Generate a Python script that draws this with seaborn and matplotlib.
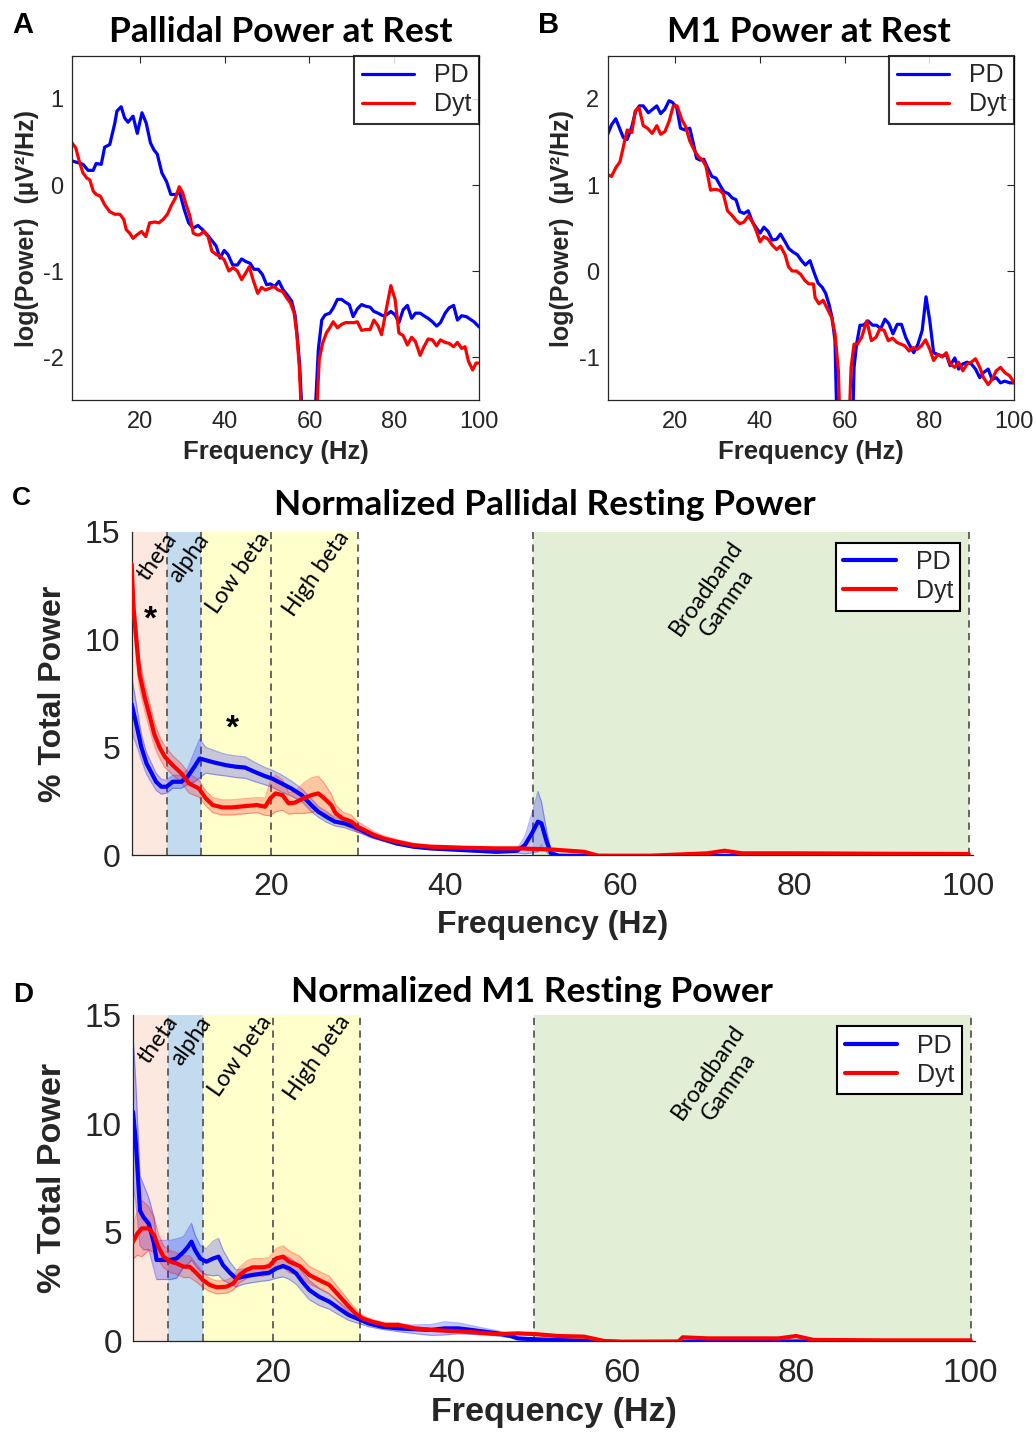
import matplotlib
matplotlib.use('Agg')
import matplotlib.pyplot as plt
import pandas as pd
import seaborn as sns

# ---- panel A: pallidal log power ----
a_pd_freq = [4, 5.4, 6.6, 7.8, 9, 9.7, 10.9, 11.7, 12.9, 14.1, 14.6, 15.6, 16.4, 17.2, 18.4, 19.4, 20.5, 21.5,
             22.5, 23.3, 24.1, 25.2, 26.3, 27.3, 28.4, 29.4, 30.5, 31.5, 32.6, 33.7, 34.8, 35.9, 36.9, 38, 38.9,
             39.9, 40.8, 41.9, 43, 44, 45, 46, 46.9, 47.9, 48.9, 49.9, 50.8, 51.8, 52.8, 53.8, 54.8, 55.8, 56.6,
             57.2, 57.7, 58.6, 61.0, 62.1, 62.9, 63.7, 64.8, 65.6, 66.6, 67.6, 68.4, 69.4, 70.3, 71.3, 72.3, 73.3,
             74.3, 75.2, 76.2, 77.3, 78.2, 79.2, 80.2, 81.1, 82.1, 83.1, 84.1, 85, 86.1, 87, 88, 89, 90, 90.9, 92,
             92.9, 94, 94.9, 95.9, 97, 97.9, 98.8, 100]
a_pd_pow = [0.28, 0.26, 0.24, 0.17, 0.17, 0.25, 0.24, 0.44, 0.47, 0.72, 0.86, 0.91, 0.78, 0.73, 0.8, 0.6, 0.84,
            0.72, 0.49, 0.41, 0.36, 0.14, 0.04, -0.11, -0.11, -0.09, -0.29, -0.44, -0.5, -0.47, -0.52, -0.58,
            -0.64, -0.71, -0.85, -0.76, -0.81, -0.93, -0.93, -0.86, -0.89, -0.91, -0.98, -0.98, -1.04, -1.16,
            -1.15, -1.18, -1.12, -1.22, -1.28, -1.35, -1.51, -1.8, -2.1, -3.0, -3.0, -1.91, -1.57, -1.51, -1.49,
            -1.43, -1.33, -1.33, -1.36, -1.39, -1.53, -1.44, -1.39, -1.41, -1.42, -1.47, -1.49, -1.52, -1.51,
            -1.47, -1.51, -1.6, -1.45, -1.4, -1.55, -1.49, -1.49, -1.52, -1.55, -1.59, -1.64, -1.6, -1.49, -1.43,
            -1.4, -1.57, -1.52, -1.53, -1.56, -1.59, -1.65]
a_dyt_freq = [4, 4.9, 5.8, 6.6, 7.5, 8.2, 9, 9.7, 10.7, 11.7, 12.9, 14.1, 15.3, 16.2, 16.8, 17.6, 18.4, 19.3,
              20.4, 21.4, 22.3, 23.5, 24.5, 25.5, 26.5, 27.5, 28.4, 29.3, 30.1, 30.8, 31.8, 32.6, 33.4, 34.1, 35.1,
              36.1, 37, 38.1, 39, 39.9, 41, 42, 43, 44, 45, 45.8, 46.7, 47.8, 48.7, 49.6, 50.7, 51.6, 52.6, 53.7,
              54.6, 55.5, 56.4, 57, 57.6, 58.4, 61.4, 62.3, 63.1, 64, 64.8, 65.6, 66.6, 67.6, 68.5, 69.6, 70.5,
              71.3, 72.3, 73.3, 74.3, 75.2, 76.2, 77, 78.1, 79.2, 80.2, 81.1, 82.1, 83.1, 84.1, 85, 86.1, 87, 88,
              89, 90, 90.9, 92, 92.9, 94, 94.9, 95.9, 96.7, 97.5, 98.5, 99.3, 100]
a_dyt_pow = [0.49, 0.43, 0.26, 0.14, 0.08, 0.06, -0.07, -0.11, -0.13, -0.23, -0.31, -0.34, -0.34, -0.4, -0.52,
             -0.56, -0.62, -0.58, -0.54, -0.6, -0.44, -0.43, -0.44, -0.4, -0.34, -0.23, -0.15, -0.02, -0.09,
             -0.21, -0.36, -0.56, -0.58, -0.58, -0.54, -0.6, -0.77, -0.81, -0.83, -0.87, -1.0, -0.96, -1.0, -1.1,
             -1.02, -0.95, -1.1, -1.26, -1.19, -1.22, -1.2, -1.18, -1.22, -1.24, -1.31, -1.37, -1.49, -1.72,
             -2.11, -3.0, -3.0, -2.03, -1.84, -1.72, -1.66, -1.59, -1.66, -1.62, -1.6, -1.6, -1.6, -1.59, -1.69,
             -1.68, -1.68, -1.57, -1.64, -1.74, -1.45, -1.17, -1.33, -1.72, -1.75, -1.86, -1.77, -1.82, -1.98,
             -1.88, -1.79, -1.8, -1.87, -1.8, -1.83, -1.84, -1.88, -1.83, -1.9, -1.88, -2.05, -2.15, -2.07, -2.07]

# ---- panel B: M1 log power ----
b_pd_freq = [4, 4.9, 5.9, 6.8, 7.7, 8.6, 9.7, 10.6, 11.5, 12.4, 13.6, 14.6, 15.6, 16.5, 17.5, 18.5, 19.3, 20.3,
             21.2, 22.3, 23.4, 24.2, 25, 25.8, 26.7, 27.6, 28.6, 29.6, 30.5, 31.5, 32.5, 33.4, 34.3, 35.2, 36.2,
             37.2, 38.2, 39, 40, 40.9, 41.9, 42.9, 43.9, 44.8, 45.9, 46.8, 47.8, 48.8, 49.8, 50.7, 51.8, 52.7,
             53.7, 54.7, 55.5, 56.3, 57, 57.7, 58.5, 61.5, 62.2, 62.8, 63.6, 64.4, 65.5, 66.6, 67.5, 68.5, 69.5,
             70.4, 71.4, 72.4, 73.4, 74.4, 75.4, 76.3, 77.3, 78.3, 79.2, 80.1, 81, 82, 83, 84, 84.9, 86, 86.9,
             87.9, 88.9, 89.9, 90.9, 91.9, 92.8, 93.9, 94.8, 95.8, 96.8, 97.8, 99, 100]
b_pd_pow = [1.59, 1.7, 1.77, 1.66, 1.55, 1.53, 1.68, 1.86, 1.92, 1.92, 1.84, 1.88, 1.92, 1.83, 1.88, 1.98, 1.96,
            1.9, 1.66, 1.64, 1.66, 1.49, 1.31, 1.29, 1.3, 1.2, 1.1, 1.08, 1.0, 0.92, 0.9, 0.85, 0.83, 0.69, 0.67,
            0.7, 0.57, 0.51, 0.44, 0.51, 0.46, 0.36, 0.37, 0.43, 0.34, 0.26, 0.22, 0.19, 0.12, 0.07, 0.12, -0.01,
            -0.14, -0.19, -0.26, -0.39, -0.54, -0.81, -2.5, -2.5, -1.12, -0.85, -0.63, -0.63, -0.58, -0.63, -0.63,
            -0.67, -0.56, -0.61, -0.73, -0.62, -0.62, -0.77, -0.87, -0.95, -0.85, -0.69, -0.3, -0.58, -0.95,
            -0.97, -0.99, -0.97, -1.1, -1.01, -1.14, -1.08, -1.06, -1.08, -1.14, -1.24, -1.18, -1.14, -1.26,
            -1.24, -1.3, -1.28, -1.3, -1.3]
b_dyt_freq = [4, 4.9, 5.9, 6.9, 7.9, 8.6, 9.7, 10.5, 11.4, 12.4, 13.4, 14.5, 15.6, 16.5, 17.5, 18.5, 19.5, 20.4,
              21.5, 22.4, 23.4, 24.4, 25.4, 26.4, 27.2, 28.3, 29.3, 30.4, 31.3, 32.3, 33.3, 34.3, 35.2, 36.2, 37.2,
              38.2, 39, 40, 40.9, 41.9, 42.9, 43.9, 44.8, 45.9, 46.7, 47.6, 48.6, 49.6, 50.6, 51.5, 52.6, 53,
              53.9, 54.9, 55.9, 56.9, 57.7, 58.5, 59.3, 60.5, 61.5, 62.2, 63, 64, 65.2, 66.3, 67.4, 68.3, 69.3,
              70.3, 71.3, 72.3, 73.3, 74.2, 75.2, 76.2, 77.1, 78.1, 79.1, 80.1, 81, 82, 83, 84, 84.9, 86, 86.9,
              87.9, 88.9, 89.9, 90.9, 91.9, 92.8, 93.9, 94.8, 95.8, 96.8, 97.8, 99, 100]
b_dyt_pow = [1.12, 1.1, 1.2, 1.27, 1.49, 1.64, 1.61, 1.86, 1.9, 1.69, 1.66, 1.6, 1.69, 1.59, 1.62, 1.74, 1.92,
             1.92, 1.76, 1.68, 1.51, 1.41, 1.33, 1.29, 1.22, 0.94, 0.95, 0.94, 0.9, 0.7, 0.65, 0.59, 0.55, 0.57,
             0.64, 0.57, 0.48, 0.34, 0.4, 0.37, 0.3, 0.25, 0.29, 0.19, 0.05, 0.0, 0.0, -0.04, -0.11, -0.15, -0.15,
             -0.31, -0.38, -0.34, -0.44, -0.54, -0.73, -1.16, -2.5, -2.5, -1.12, -0.85, -0.85, -0.77, -0.58,
             -0.81, -0.77, -0.67, -0.69, -0.81, -0.78, -0.83, -0.85, -0.87, -0.93, -0.89, -0.91, -0.87, -0.8,
             -0.91, -1.04, -0.97, -1.0, -0.95, -1.08, -1.12, -1.06, -1.16, -1.08, -1.06, -1.02, -1.12, -1.24,
             -1.32, -1.26, -1.16, -1.12, -1.18, -1.22, -1.3]

# ---- panel C: normalized pallidal power (mean, sem) ----
c_pd_freq = [4, 4.6, 5.1, 5.7, 6.3, 6.8, 7.4, 8, 8.7, 9.7, 10.4, 11.2, 11.8, 12.5, 13.6, 14.8, 15.9, 17, 18.1,
             19.3, 20.1, 21.2, 22.3, 23.5, 24.6, 25.4, 26.3, 27.3, 28.4, 29.5, 30.3, 31.4, 32.6, 34.4, 36.3, 38.2,
             42, 45.8, 48.2, 49.1, 49.9, 50.6, 51, 51.6, 52.1, 53, 60, 70, 80, 90, 100]
c_pd_mean = [7.0, 5.95, 5.02, 4.25, 3.79, 3.4, 3.17, 3.17, 3.4, 3.4, 3.63, 4.1, 4.48, 4.4, 4.28, 4.17, 4.1, 4.06,
             3.86, 3.66, 3.55, 3.32, 3.09, 2.78, 2.32, 2.01, 1.78, 1.55, 1.47, 1.31, 1.16, 0.93, 0.77, 0.54, 0.39,
             0.31, 0.23, 0.15, 0.2, 0.46, 1.0, 1.55, 1.47, 0.62, 0.08, -0.03, -0.05, -0.04, -0.05, -0.05, -0.05]
c_pd_sem = [1.3, 0.9, 0.6, 0.5, 0.45, 0.4, 0.35, 0.3, 0.3, 0.3, 0.35, 0.7, 0.9, 0.6, 0.55, 0.5, 0.5, 0.5, 0.45,
            0.4, 0.4, 0.4, 0.35, 0.3, 0.3, 0.25, 0.25, 0.2, 0.2, 0.2, 0.15, 0.12, 0.1, 0.08, 0.06, 0.05, 0.04,
            0.04, 0.1, 0.4, 0.9, 1.4, 1.0, 0.5, 0.1, 0.03, 0.03, 0.03, 0.03, 0.03, 0.03]
c_dyt_freq = [4, 4.2, 4.6, 4.9, 5.5, 6.1, 6.6, 7.2, 7.8, 8.7, 9.7, 10.6, 11.7, 12.5, 13.3, 14.4, 15.5, 17, 18.4,
              19.3, 19.9, 20.5, 21.3, 22, 22.7, 23.7, 24.6, 25.4, 26.1, 26.9, 27.4, 28.2, 29.2, 29.9, 30.7, 31.8,
              32.9, 34.4, 36.3, 38.2, 42, 45.8, 48.3, 52.1, 55.9, 57.5, 63.5, 70, 72, 74, 80, 90, 100]
c_dyt_mean = [13.5, 11.5, 9.7, 8.4, 7.3, 6.4, 5.6, 5.0, 4.56, 4.17, 3.79, 3.32, 3.09, 2.63, 2.32, 2.21, 2.21,
              2.27, 2.32, 2.24, 2.63, 2.86, 2.78, 2.4, 2.43, 2.63, 2.78, 2.86, 2.63, 2.32, 1.93, 1.7, 1.55, 1.31,
              1.16, 0.93, 0.77, 0.62, 0.46, 0.39, 0.34, 0.31, 0.31, 0.26, 0.15, -0.03, -0.03, 0.08, 0.2, 0.08,
              0.08, 0.06, 0.05]
c_dyt_sem = [1.0, 0.9, 0.8, 0.7, 0.6, 0.6, 0.55, 0.5, 0.5, 0.45, 0.45, 0.45, 0.4, 0.35, 0.35, 0.35, 0.35, 0.35,
             0.35, 0.4, 0.8, 0.85, 0.7, 0.5, 0.5, 0.7, 0.8, 0.8, 0.7, 0.5, 0.4, 0.3, 0.3, 0.25, 0.2, 0.15, 0.12,
             0.1, 0.08, 0.06, 0.05, 0.05, 0.05, 0.04, 0.04, 0.03, 0.03, 0.03, 0.04, 0.03, 0.03, 0.03, 0.03]

# ---- panel D: normalized M1 power (mean, sem) ----
d_pd_freq = [4, 4.3, 4.5, 4.8, 5.2, 5.8, 6.4, 6.7, 7.5, 8.3, 9, 9.8, 10.3, 10.7, 11.1, 11.7, 12.4, 13.2, 13.8,
             14.3, 15.1, 15.8, 16.6, 17.7, 18.9, 19.6, 20.4, 21.2, 21.9, 22.7, 23.4, 24.2, 25.3, 26.5, 27.6, 28.7,
             29.9, 31, 32.5, 34.4, 36.3, 38.2, 39.7, 41.3, 42.8, 44.3, 45.8, 47.3, 48.1, 50, 60, 70, 80, 90, 100]
d_pd_mean = [10.55, 9.25, 8.0, 6.0, 5.7, 5.4, 4.5, 3.73, 3.73, 3.73, 3.8, 4.1, 4.34, 4.57, 4.19, 3.8, 3.65, 3.8,
             3.88, 3.5, 3.14, 2.88, 2.96, 3.04, 3.11, 3.14, 3.34, 3.45, 3.34, 3.11, 2.73, 2.35, 2.04, 1.81, 1.5,
             1.2, 1.0, 0.81, 0.66, 0.58, 0.54, 0.51, 0.58, 0.58, 0.51, 0.43, 0.35, 0.23, 0.12, 0.08, -0.05,
             -0.03, -0.02, -0.03, -0.03]
d_pd_sem = [3.5, 2.8, 2.3, 1.6, 1.5, 1.2, 1.2, 0.9, 0.9, 0.9, 0.9, 0.7, 0.8, 0.85, 0.7, 0.6, 0.6, 0.8, 0.85, 0.7,
            0.5, 0.4, 0.35, 0.35, 0.35, 0.35, 0.45, 0.5, 0.5, 0.5, 0.45, 0.45, 0.4, 0.35, 0.3, 0.25, 0.2, 0.15,
            0.12, 0.15, 0.2, 0.25, 0.3, 0.25, 0.2, 0.15, 0.12, 0.08, 0.05, 0.04, 0.03, 0.03, 0.03, 0.03, 0.03]
d_dyt_freq = [4, 4.5, 5, 5.8, 6.4, 6.9, 7.5, 8.3, 9, 9.8, 10.5, 11.3, 12, 12.8, 13.6, 14.7, 15.5, 16.2, 17, 17.7,
              18.9, 19.6, 20.4, 21.2, 21.9, 23.1, 24.2, 25.3, 26.5, 27.2, 28.4, 29.5, 30.3, 31.4, 32.9, 34.4,
              36.3, 38.2, 42, 45.8, 48.1, 50, 52.7, 55.7, 58, 60, 66.5, 67, 70, 78, 80, 82, 90, 100]
d_dyt_mean = [4.57, 4.95, 5.18, 5.18, 4.88, 4.34, 3.88, 3.65, 3.57, 3.42, 3.42, 3.11, 2.81, 2.58, 2.47, 2.5, 2.65,
              3.04, 3.27, 3.39, 3.39, 3.45, 3.8, 3.88, 3.65, 3.45, 3.04, 2.81, 2.58, 2.27, 1.73, 1.27, 1.04, 0.89,
              0.74, 0.74, 0.58, 0.51, 0.43, 0.32, 0.35, 0.32, 0.23, 0.2, 0.0, -0.03, -0.03, 0.17, 0.12, 0.12,
              0.23, 0.05, 0.03, 0.03]
d_dyt_sem = [0.8, 1.0, 1.3, 1.0, 0.8, 0.6, 0.5, 0.5, 0.5, 0.5, 0.5, 0.4, 0.35, 0.3, 0.3, 0.3, 0.3, 0.35, 0.4, 0.4,
             0.4, 0.4, 0.45, 0.5, 0.5, 0.45, 0.4, 0.4, 0.4, 0.35, 0.3, 0.2, 0.15, 0.1, 0.1, 0.1, 0.08, 0.07, 0.05,
             0.05, 0.05, 0.05, 0.05, 0.05, 0.03, 0.03, 0.03, 0.03, 0.03, 0.03, 0.04, 0.03, 0.03, 0.03]

# frequency bands
band_names = ['theta', 'alpha', 'Low beta', 'High beta', 'Broadband\nGamma']
band_lo = [4, 8, 12, 20, 50]
band_hi = [8, 12, 20, 30, 100]
band_colors = ['#fce8df', '#c3dbef', '#ffffcc', '#ffffcc', '#e2efd6']
band_label_x = [6.9, 10.6, 16.3, 25.2, 71.1]
band_label_y = [13.85, 13.8, 13.1, 13.05, 12.05]
dashed_at = [8, 12, 20, 30, 50, 100]

groups = ['PD', 'Dyt']
palette = {'PD': '#0000ff', 'Dyt': '#ff0000'}
INK = '#262626'


def long_frame(pd_f, pd_v, dyt_f, dyt_v):
    a = pd.DataFrame({'freq': pd_f, 'val': pd_v, 'group': 'PD'})
    b = pd.DataFrame({'freq': dyt_f, 'val': dyt_v, 'group': 'Dyt'})
    return pd.concat([a, b], ignore_index=True)


def style_axes(ax, tick_size, box):
    ax.tick_params(direction='in', length=5, width=0.8, colors=INK, labelsize=tick_size,
                   top=box, right=box)
    for side, sp in ax.spines.items():
        sp.set_color(INK)
        sp.set_linewidth(0.9)
        if not box and side in ('top', 'right'):
            sp.set_visible(False)


def log_power_panel(ax, df, ylim, yticks):
    sns.lineplot(data=df, x='freq', y='val', hue='group', hue_order=groups, palette=palette,
                 estimator=None, linewidth=2.3, ax=ax)
    ax.set_xlim(4, 100)
    ax.set_ylim(*ylim)
    ax.set_xticks([20, 40, 60, 80, 100])
    ax.set_yticks(yticks)
    style_axes(ax, 17, True)
    ax.tick_params(axis='x', pad=8)
    ax.tick_params(axis='y', pad=6)
    ax.set_xlabel('Frequency (Hz)', fontsize=18.5, fontweight='bold', color=INK, labelpad=5)
    ax.set_ylabel('log(Power)  (\u00b5V\u00b2/Hz)', fontsize=18, fontweight='bold', color=INK, labelpad=3)
    h, l = ax.get_legend_handles_labels()
    leg = ax.legend(h, l, loc='upper right', borderaxespad=0, fontsize=18, frameon=True, fancybox=False,
                    edgecolor='black', handlelength=2.1, handletextpad=0.8, borderpad=0.3,
                    labelspacing=0.2)
    leg.get_frame().set_linewidth(1.5)
    for t in leg.get_texts():
        t.set_color(INK)


def normalized_panel(ax, df, sems, tick_size, label_size):
    for i, name in enumerate(band_names):
        ax.axvspan(band_lo[i], band_hi[i], color=band_colors[i], lw=0, zorder=0)
        ax.text(band_label_x[i], band_label_y[i], name, rotation=55, ha='center', va='center',
                multialignment='center', fontsize=16.5, family='Lato', color='black', zorder=5,
                linespacing=1.2)
    ax.vlines(dashed_at, 0, 15, colors='#5a5a5a', linestyles=(0, (4, 3)), linewidth=1.3, zorder=1)
    for g in groups:
        sub = df[df['group'] == g]
        lo = sub['val'] - sems[g]
        hi = sub['val'] + sems[g]
        ax.fill_between(sub['freq'], lo, hi, color=palette[g], alpha=0.22, lw=0, zorder=2)
        ax.plot(sub['freq'], lo, color=palette[g], alpha=0.3, lw=0.9, zorder=2)
        ax.plot(sub['freq'], hi, color=palette[g], alpha=0.3, lw=0.9, zorder=2)
    sns.lineplot(data=df, x='freq', y='val', hue='group', hue_order=groups, palette=palette,
                 estimator=None, linewidth=3.0, ax=ax, zorder=3)
    ax.set_xlim(4, 100.5)
    ax.set_ylim(0, 15)
    ax.set_xticks([20, 40, 60, 80, 100])
    ax.set_yticks([0, 5, 10, 15])
    style_axes(ax, tick_size, False)
    ax.tick_params(axis='x', pad=12)
    ax.tick_params(axis='y', pad=8)
    ax.set_xlabel('Frequency (Hz)', fontsize=label_size, fontweight='bold', color=INK, labelpad=6)
    ax.set_ylabel('% Total Power', fontsize=label_size, fontweight='bold', color=INK, labelpad=12)
    h, l = ax.get_legend_handles_labels()
    leg = ax.legend(h, l, loc='upper right', bbox_to_anchor=(0.985, 0.966), borderaxespad=0, fontsize=18,
                    frameon=True, fancybox=False, edgecolor='black', framealpha=1, handlelength=2.1,
                    handletextpad=0.8, borderpad=0.3, labelspacing=0.2)
    leg.get_frame().set_linewidth(1.5)
    leg.set_zorder(10)
    for t in leg.get_texts():
        t.set_color(INK)


def main():
    sns.set_theme(style='white')
    plt.rcParams['font.family'] = ['Liberation Sans', 'DejaVu Sans']
    plt.rcParams['axes.unicode_minus'] = False

    fig = plt.figure(figsize=(10.36, 14.39), dpi=100)
    ax_a = fig.add_axes([0.0695, 0.722, 0.3929, 0.2391])
    ax_b = fig.add_axes([0.5866, 0.722, 0.3922, 0.2391])
    ax_c = fig.add_axes([0.1271, 0.4058, 0.8121, 0.2247])
    ax_d = fig.add_axes([0.1284, 0.0681, 0.8127, 0.2265])

    log_power_panel(ax_a, long_frame(a_pd_freq, a_pd_pow, a_dyt_freq, a_dyt_pow), (-2.5, 1.5), [-2, -1, 0, 1])
    log_power_panel(ax_b, long_frame(b_pd_freq, b_pd_pow, b_dyt_freq, b_dyt_pow), (-1.5, 2.5), [-1, 0, 1, 2])

    df_c = long_frame(c_pd_freq, c_pd_mean, c_dyt_freq, c_dyt_mean)
    normalized_panel(ax_c, df_c, {'PD': pd.Series(c_pd_sem, index=df_c.index[df_c.group == 'PD']),
                                  'Dyt': pd.Series(c_dyt_sem, index=df_c.index[df_c.group == 'Dyt'])}, 23, 23)
    ax_c.text(6.2, 10.9, '*', ha='center', va='center', fontsize=24, fontweight='bold', color='black', zorder=6)
    ax_c.text(15.5, 5.85, '*', ha='center', va='center', fontsize=24, fontweight='bold', color='black', zorder=6)

    df_d = long_frame(d_pd_freq, d_pd_mean, d_dyt_freq, d_dyt_mean)
    normalized_panel(ax_d, df_d, {'PD': pd.Series(d_pd_sem, index=df_d.index[df_d.group == 'PD']),
                                  'Dyt': pd.Series(d_dyt_sem, index=df_d.index[df_d.group == 'Dyt'])}, 24, 24.5)

    W, H = 1036, 1439
    title_kw = dict(ha='center', va='baseline', fontweight='bold', family='Lato', color='black')
    fig.text(281 / W, 1 - 42 / H, 'Pallidal Power at Rest', fontsize=25.5, **title_kw)
    fig.text(809 / W, 1 - 42 / H, 'M1 Power at Rest', fontsize=25.5, **title_kw)
    fig.text(545 / W, 1 - 515 / H, 'Normalized Pallidal Resting Power', fontsize=25.5, **title_kw)
    fig.text(532 / W, 1 - 1002 / H, 'Normalized M1 Resting Power', fontsize=25.5, **title_kw)

    letter_kw = dict(ha='left', va='baseline', fontweight='bold', color='black')
    fig.text(12 / W, 1 - 33 / H, 'A', fontsize=21, **letter_kw)
    fig.text(538 / W, 1 - 33 / H, 'B', fontsize=21, **letter_kw)
    fig.text(12 / W, 1 - 505 / H, 'C', fontsize=19, **letter_kw)
    fig.text(13 / W, 1 - 1002 / H, 'D', fontsize=20, **letter_kw)

    fig.savefig('out.png', dpi=100)


if __name__ == '__main__':
    main()
